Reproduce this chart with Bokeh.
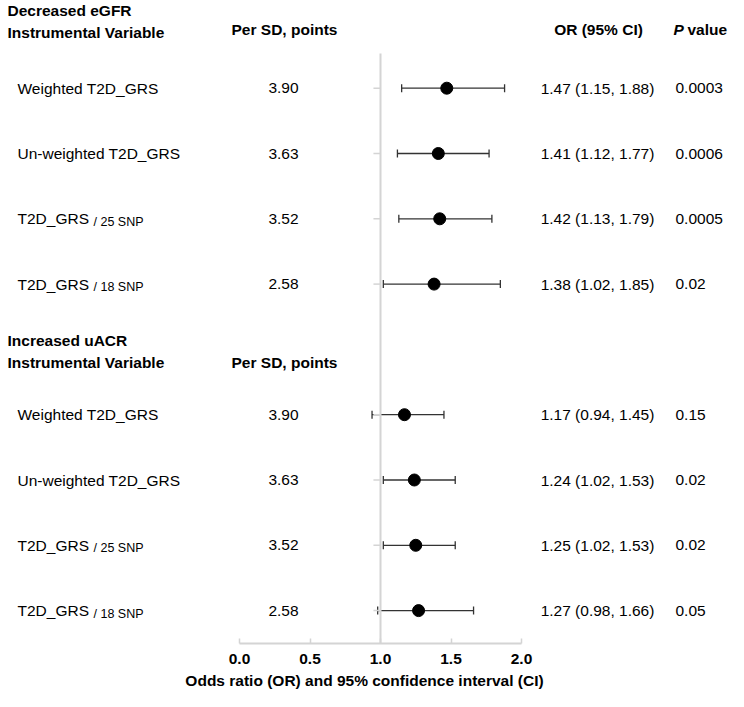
from bokeh.plotting import figure
from bokeh.models import (Range1d, ColumnDataSource, Whisker, TeeHead,
                          FixedTicker, PrintfTickFormatter)
from bokeh.core.properties import value
from bokeh.embed import file_html
from bokeh.resources import INLINE

# ---------------- data ----------------
iv_labels = ["Weighted T2D_GRS", "Un-weighted T2D_GRS", "T2D_GRS", "T2D_GRS"]
iv_subs = ["", "", "/ 25 SNP", "/ 18 SNP"]
per_sd = ["3.90", "3.63", "3.52", "2.58"]

egfr_or = [1.47, 1.41, 1.42, 1.38]
egfr_lo = [1.15, 1.12, 1.13, 1.02]
egfr_hi = [1.88, 1.77, 1.79, 1.85]
egfr_p = ["0.0003", "0.0006", "0.0005", "0.02"]

uacr_or = [1.17, 1.24, 1.25, 1.27]
uacr_lo = [0.94, 1.02, 1.02, 0.98]
uacr_hi = [1.45, 1.53, 1.53, 1.66]
uacr_p = ["0.15", "0.02", "0.02", "0.05"]

x_ticks = [0.0, 0.5, 1.0, 1.5, 2.0]
null_or = 1.0

# ---------------- layout ----------------
W, H = 728, 691
FRAME_H = 643
AXIS_H = H - FRAME_H
X0 = 239.0      # px of OR = 0
PXU = 141.0     # px per OR unit
ROW0 = 87.7     # px of first row
ROWH = 65.3     # px per row

def xd(px):
    return (px - X0) / PXU

def yd(py):
    return (py - ROW0) / ROWH

egfr_rows = [0, 1, 2, 3]
uacr_rows = [5, 6, 7, 8]

rows = egfr_rows + uacr_rows
ors = egfr_or + uacr_or
los = egfr_lo + uacr_lo
his = egfr_hi + uacr_hi
ps = egfr_p + uacr_p
ci_txt = [f"{o:.2f} ({l:.2f}, {h:.2f})" for o, l, h in zip(ors, los, his)]

src = ColumnDataSource(dict(y=rows, est=ors, lo=los, hi=his, ci=ci_txt, p=ps,
                            lab=iv_labels * 2, sub=iv_subs * 2, sd=per_sd * 2))

x_range = Range1d(xd(0), xd(W))
y_range = Range1d(yd(FRAME_H), yd(0))

p = figure(width=W, height=H, x_range=x_range, y_range=y_range,
           output_backend="svg", toolbar_location=None, y_axis_location=None,
           min_border_left=0, min_border_right=0, min_border_top=0,
           min_border_bottom=AXIS_H, outline_line_color=None)
p.xgrid.visible = False
p.ygrid.visible = False

FONT = value("Liberation Sans")
GRAY = "#d4d4d4"

# null reference line and row ticks
p.segment(x0=[null_or], x1=[null_or], y0=[yd(53)], y1=[yd(FRAME_H)],
          line_color=GRAY, line_width=2)
p.segment(x0=[null_or - 0.05] * len(rows), x1=[null_or] * len(rows),
          y0=rows, y1=rows, line_color=GRAY, line_width=1.5)

# confidence intervals
head_kw = dict(size=8, line_color="#333333", line_width=1.3)
p.add_layout(Whisker(source=src, base="y", lower="lo", upper="hi",
                     dimension="width", line_color="#333333", line_width=1.3,
                     upper_head=TeeHead(**head_kw), lower_head=TeeHead(**head_kw)))

# point estimates
p.scatter(x="est", y="y", source=src, size=12, color="black")

txt = dict(text_font=FONT, text_font_size="15.5px", text_color="black",
           text_baseline="middle")

# row texts
p.text(x=xd(17), y="y", text="lab", source=src, text_align="left", **txt)
sub_src = ColumnDataSource(dict(y=[r for r, s in zip(rows, iv_subs * 2) if s],
                                sub=[s for s in iv_subs * 2 if s]))
p.text(x=xd(93), y="y", text="sub", source=sub_src, text_align="left",
       y_offset=3, text_font=FONT, text_font_size="12.5px", text_color="black",
       text_baseline="middle")
p.text(x=xd(283), y="y", text="sd", source=src, text_align="center", **txt)
p.text(x=xd(597), y="y", text="ci", source=src, text_align="center", **txt)
p.text(x=xd(675), y="y", text="p", source=src, text_align="left", **txt)

# headers
bold = dict(txt, text_font_style="bold")
p.text(x=[xd(7), xd(7), xd(7), xd(7)],
       y=[yd(10), yd(31.5), yd(340), yd(362)],
       text=["Decreased eGFR", "Instrumental Variable",
             "Increased uACR", "Instrumental Variable"],
       text_align="left", **bold)
p.text(x=[xd(284), xd(284), xd(598)], y=[yd(29), yd(362), yd(29)],
       text=["Per SD, points", "Per SD, points", "OR (95% CI)"],
       text_align="center", **bold)
p.text(x=[xd(673)], y=[yd(29)], text=["P"], text_align="left",
       **dict(txt, text_font_style="bold italic"))
p.text(x=[xd(687)], y=[yd(29)], text=["value"], text_align="left", **bold)

# x axis
ax = p.xaxis[0]
ax.bounds = (x_ticks[0], x_ticks[-1])
ax.ticker = FixedTicker(ticks=x_ticks)
ax.formatter = PrintfTickFormatter(format="%.1f")
ax.axis_line_color = GRAY
ax.axis_line_width = 2
ax.major_tick_line_color = GRAY
ax.major_tick_line_width = 1.5
ax.major_tick_in = 5
ax.major_tick_out = 0
ax.minor_tick_line_color = None
ax.major_label_standoff = 10
ax.major_label_text_font = "Liberation Sans"
ax.major_label_text_font_size = "15.5px"
ax.major_label_text_font_style = "bold"
ax.major_label_text_color = "black"
ax.axis_label = "Odds ratio (OR) and 95% confidence interval (CI)"
ax.axis_label_text_font = "Liberation Sans"
ax.axis_label_text_font_size = "15.5px"
ax.axis_label_text_font_style = "bold"
ax.axis_label_text_color = "black"
ax.axis_label_standoff = 5

open("out.html", "w").write(file_html(p, INLINE))
